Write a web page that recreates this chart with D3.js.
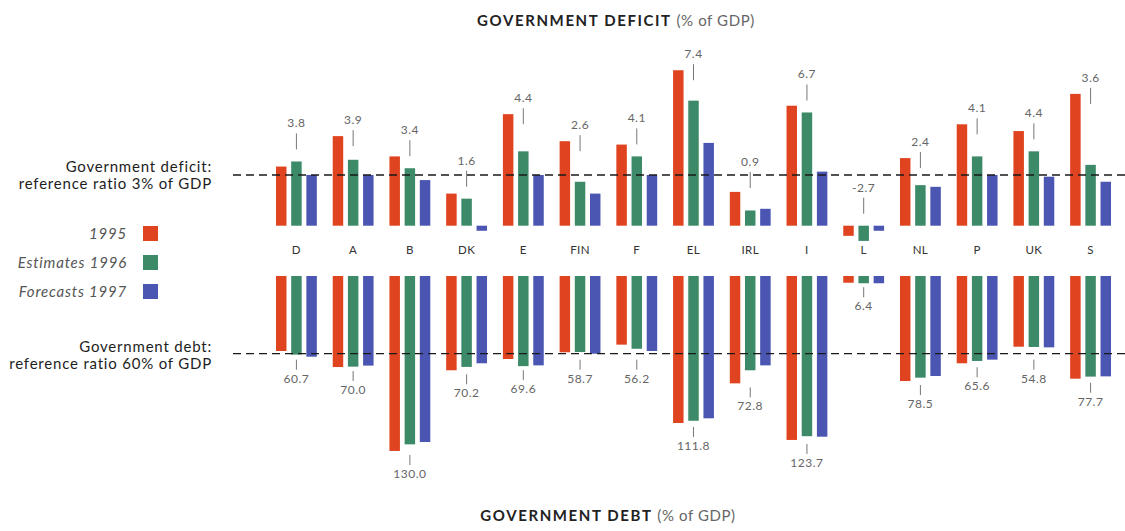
<!DOCTYPE html>
<html>
<head>
<meta charset="utf-8">
<script src="https://cdn.jsdelivr.net/npm/d3@7"></script>
<style>
  body { margin: 0; background: #fff; }
  svg { display: block; font-family: Lato, "Open Sans", sans-serif; }
</style>
</head>
<body>
<div id="chart"></div>
<script>
const countries = ["D", "A", "B", "DK", "E", "FIN", "F", "EL", "IRL", "I", "L", "NL", "P", "UK", "S"];
const seriesNames = ["1995", "Estimates 1996", "Forecasts 1997"];

// government deficit, % of GDP (negative = surplus)
const deficit1995 = [3.5, 5.3, 4.1, 1.9, 6.6, 5.0, 4.8, 9.2, 2.0, 7.1, -0.6, 4.0, 6.0, 5.6, 7.8];
const deficit1996 = [3.8, 3.9, 3.4, 1.6, 4.4, 2.6, 4.1, 7.4, 0.9, 6.7, -0.9, 2.4, 4.1, 4.4, 3.6];
const deficit1997 = [3.0, 3.0, 2.7, -0.3, 3.0, 1.9, 3.0, 4.9, 1.0, 3.2, -0.3, 2.3, 3.0, 2.9, 2.6];
const deficitLabels = ["3.8", "3.9", "3.4", "1.6", "4.4", "2.6", "4.1", "7.4", "0.9", "6.7", "-2.7", "2.4", "4.1", "4.4", "3.6"];

// government debt, % of GDP
const debt1995 = [57.9, 70.3, 135.1, 72.8, 64.1, 58.9, 53.0, 113.5, 82.9, 126.6, 5.2, 81.1, 67.4, 54.6, 79.3];
const debt1996 = [60.7, 70.0, 130.0, 70.2, 69.6, 58.7, 56.2, 111.8, 72.8, 123.7, 5.6, 78.5, 65.6, 54.8, 77.7];
const debt1997 = [62.3, 69.2, 128.2, 67.4, 69.0, 60.0, 57.9, 109.9, 69.0, 124.1, 5.6, 77.2, 64.6, 55.1, 77.5];
const debtLabels = ["60.7", "70.0", "130.0", "70.2", "69.6", "58.7", "56.2", "111.8", "72.8", "123.7", "6.4", "78.5", "65.6", "54.8", "77.7"];

const deficitRef = 3;
const debtRef = 60;

const width = 1125;
const height = 531;
const colors = ["#e0431f", "#3d8a69", "#4b56b2"];

const svg = d3.select("#chart").append("svg")
  .attr("width", width)
  .attr("height", height);

svg.append("rect").attr("width", width).attr("height", height).attr("fill", "#fff");

const x = d3.scaleBand()
  .domain(countries)
  .range([276, 1111])
  .paddingInner(0.28)
  .paddingOuter(0);

const xs = d3.scaleBand()
  .domain(seriesNames)
  .range([0, x.bandwidth()])
  .paddingInner(0.31);

const color = d3.scaleOrdinal().domain(seriesNames).range(colors);

const yDef = d3.scaleLinear().domain([0, deficitRef]).range([225.7, 175]);
const yDebt = d3.scaleLinear().domain([0, debtRef]).range([276, 353.7]);

const deficitSeries = [deficit1995, deficit1996, deficit1997];
const debtSeries = [debt1995, debt1996, debt1997];

const rows = countries.map((c, i) => ({
  country: c,
  deficit: deficitSeries.map(s => s[i]),
  debt: debtSeries.map(s => s[i]),
  deficitLabel: deficitLabels[i],
  debtLabel: debtLabels[i]
}));

const groups = svg.append("g").selectAll("g")
  .data(rows)
  .join("g")
  .attr("transform", d => `translate(${x(d.country)},0)`);

// deficit bars
groups.selectAll("rect.def")
  .data(d => d.deficit.map((v, j) => ({ v, s: seriesNames[j] })))
  .join("rect")
  .attr("class", "def")
  .attr("x", d => xs(d.s))
  .attr("width", xs.bandwidth())
  .attr("y", d => yDef(Math.max(0, d.v)))
  .attr("height", d => Math.abs(yDef(d.v) - yDef(0)))
  .attr("fill", d => color(d.s));

// debt bars
groups.selectAll("rect.debt")
  .data(d => d.debt.map((v, j) => ({ v, s: seriesNames[j] })))
  .join("rect")
  .attr("class", "debt")
  .attr("x", d => xs(d.s))
  .attr("width", xs.bandwidth())
  .attr("y", yDebt(0))
  .attr("height", d => yDebt(d.v) - yDebt(0))
  .attr("fill", d => color(d.s));

// reference lines, drawn over the bars
[yDef(deficitRef), yDebt(debtRef)].forEach(yy => {
  svg.append("line")
    .attr("x1", 233).attr("x2", width)
    .attr("y1", yy).attr("y2", yy)
    .attr("stroke", "#1a1a1a")
    .attr("stroke-width", 1.3)
    .attr("stroke-dasharray", "8,5");
});

// country labels
groups.append("text")
  .attr("x", x.bandwidth() / 2)
  .attr("y", 254)
  .attr("text-anchor", "middle")
  .attr("font-size", 11.5)
  .attr("letter-spacing", 0.4)
  .attr("fill", "#333")
  .text(d => d.country);

const labelX = xs(seriesNames[1]) + xs.bandwidth() / 2;
const refDefY = yDef(deficitRef);
const refDebtY = yDebt(debtRef);

groups.each(function(d) {
  const g = d3.select(this);

  // deficit labels above the bars
  const redTop = yDef(Math.max(0, d.deficit[0]));
  const greenTop = yDef(Math.max(0, d.deficit[1]));
  let tickBottom = Math.min(greenTop - 12, redTop + 10);
  let tickTop = tickBottom - 16;
  if (tickTop - 5 > refDefY - 3 && tickTop - 5 < refDefY + 12) {
    tickTop = refDefY - 3;
    tickBottom = tickTop + 16;
  }
  g.append("line")
    .attr("x1", labelX).attr("x2", labelX)
    .attr("y1", tickTop).attr("y2", tickBottom)
    .attr("stroke", "#777").attr("stroke-width", 1);
  g.append("text")
    .attr("x", labelX)
    .attr("y", tickTop - 6)
    .attr("text-anchor", "middle")
    .attr("font-size", 12)
    .attr("letter-spacing", 0.5)
    .attr("fill", "#666")
    .text(d.deficitLabel);

  // debt labels below the bars
  const bottom = Math.max(yDebt(d.debt[0]), yDebt(d.debt[1]));
  let dTop = bottom + 4;
  if (Math.abs(dTop - refDebtY) < 6) dTop = refDebtY + 6;
  const dBottom = dTop + 10;
  g.append("line")
    .attr("x1", labelX).attr("x2", labelX)
    .attr("y1", dTop).attr("y2", dBottom)
    .attr("stroke", "#777").attr("stroke-width", 1);
  g.append("text")
    .attr("x", labelX)
    .attr("y", dBottom + 13)
    .attr("text-anchor", "middle")
    .attr("font-size", 12)
    .attr("letter-spacing", 0.5)
    .attr("fill", "#666")
    .text(d.debtLabel);
});

// titles
const t1 = svg.append("text")
  .attr("x", 616).attr("y", 26)
  .attr("text-anchor", "middle")
  .attr("font-size", 15);
t1.append("tspan").attr("font-weight", "bold").attr("fill", "#222").attr("letter-spacing", 1.6).text("GOVERNMENT DEFICIT ");
t1.append("tspan").attr("fill", "#666").attr("letter-spacing", 0.6).text("(% of GDP)");

const t2 = svg.append("text")
  .attr("x", 608).attr("y", 521)
  .attr("text-anchor", "middle")
  .attr("font-size", 15);
t2.append("tspan").attr("font-weight", "bold").attr("fill", "#222").attr("letter-spacing", 1.6).text("GOVERNMENT DEBT ");
t2.append("tspan").attr("fill", "#666").attr("letter-spacing", 0.6).text("(% of GDP)");

// left side annotations
const notes = [
  { y: 172, text: "Government deficit:" },
  { y: 189, text: "reference ratio 3% of GDP" },
  { y: 352, text: "Government debt:" },
  { y: 369, text: "reference ratio 60% of GDP" }
];
svg.append("g").selectAll("text")
  .data(notes)
  .join("text")
  .attr("x", 212)
  .attr("y", d => d.y)
  .attr("text-anchor", "end")
  .attr("font-size", 15)
  .attr("letter-spacing", 0.8)
  .attr("fill", "#1e1e1e")
  .text(d => d.text);

// legend
const legend = svg.append("g").attr("transform", "translate(0,226)");
const items = legend.selectAll("g")
  .data(seriesNames)
  .join("g")
  .attr("transform", (d, i) => `translate(0,${i * 29})`);
items.append("rect")
  .attr("x", 143).attr("width", 15).attr("height", 15)
  .attr("fill", d => color(d));
items.append("text")
  .attr("x", 127).attr("y", 13)
  .attr("text-anchor", "end")
  .attr("font-size", 15)
  .attr("font-style", "italic")
  .attr("letter-spacing", 0.8)
  .attr("fill", "#555")
  .text(d => d);
</script>
</body>
</html>
